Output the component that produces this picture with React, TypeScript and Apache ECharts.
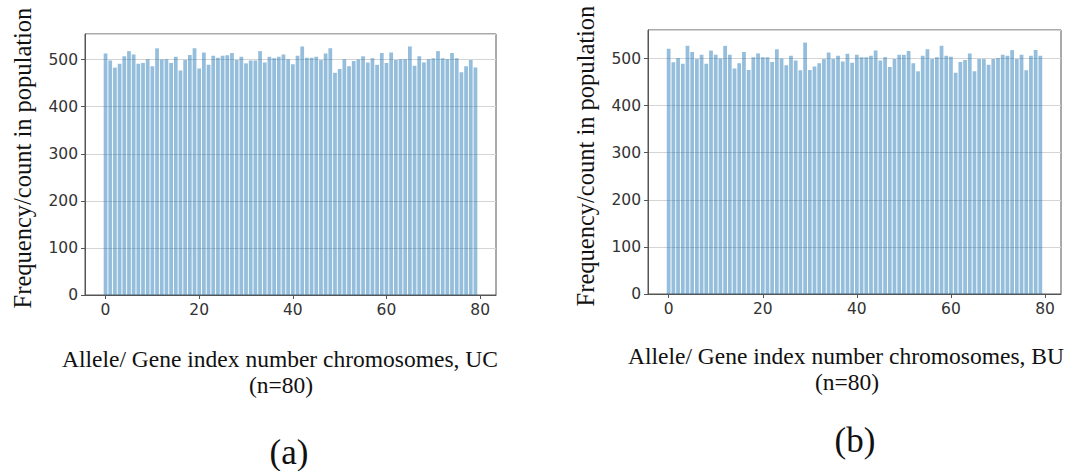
import React, { useEffect, useRef } from "react";
import * as echarts from "echarts";

const geneIndex: number[] = Array.from({ length: 80 }, (_, i) => i);

const ucCounts: number[] = [
  513, 498, 483, 491, 507, 518, 511, 491, 493, 501,
  486, 524, 500, 501, 493, 506, 477, 499, 510, 524,
  481, 515, 489, 508, 504, 508, 509, 514, 499, 506,
  492, 498, 498, 518, 494, 506, 503, 506, 511, 501,
  490, 508, 528, 504, 504, 506, 499, 513, 524, 472,
  480, 501, 486, 497, 500, 507, 494, 503, 489, 514,
  493, 515, 499, 501, 501, 528, 487, 507, 494, 501,
  503, 518, 503, 501, 514, 503, 473, 486, 499, 483,
];

const buCounts: number[] = [
  521, 492, 501, 489, 527, 514, 499, 508, 489, 517,
  508, 500, 527, 508, 479, 490, 514, 476, 503, 511,
  503, 503, 493, 520, 500, 486, 506, 496, 475, 534,
  476, 483, 490, 499, 513, 499, 506, 494, 510, 491,
  508, 503, 503, 506, 517, 496, 503, 482, 499, 508,
  508, 516, 490, 473, 506, 520, 499, 503, 527, 506,
  504, 470, 493, 497, 511, 473, 499, 499, 487, 499,
  501, 508, 506, 518, 499, 508, 475, 506, 518, 506,
];

const xTicks: number[] = [0, 20, 40, 60, 80];
const yLabel = "Frequency/count in population";
const xLabelUC = "Allele/ Gene index number chromosomes, UC";
const xLabelBU = "Allele/ Gene index number chromosomes, BU";
const nLabel = "(n=80)";
const panelA = "(a)";
const panelB = "(b)";

const tickFont = { fontFamily: "DejaVu Sans", fontSize: 15.5, color: "#333" };
const serif = "'Liberation Serif', 'Times New Roman', serif";

export default function App() {
  const ref = useRef<HTMLDivElement>(null);
  useEffect(() => {
    if (!ref.current) return;
    const chart = echarts.init(ref.current, null, { renderer: "svg" });
    const mkX = (gi: number) => ({
      type: "value" as const,
      gridIndex: gi,
      min: -4.39,
      max: 83.39,
      axisLine: { show: true, onZero: false, lineStyle: { color: "#555", width: 1 } },
      axisTick: { show: true, customValues: xTicks, length: 4, lineStyle: { color: "#555" } },
      axisLabel: { show: true, customValues: xTicks, margin: 7, ...tickFont },
      splitLine: { show: false },
    });
    const mkY = (gi: number, max: number) => ({
      type: "value" as const,
      gridIndex: gi,
      min: 0,
      max,
      interval: 100,
      axisLine: { show: true, onZero: false, lineStyle: { color: "#555", width: 1 } },
      axisTick: { show: true, length: 4, lineStyle: { color: "#555" } },
      axisLabel: { show: true, showMaxLabel: false, margin: 7, ...tickFont },
      splitLine: { show: true, lineStyle: { color: "#d4d4d4", width: 1 } },
    });
    const barStyle = {
      color: "rgba(31,119,180,0.48)",
    };
    chart.setOption({
      animation: false,
      grid: [
        { left: 85, top: 34, width: 411, height: 261, show: true, borderColor: "#555", borderWidth: 1, backgroundColor: "transparent" },
        { left: 648, top: 30, width: 413, height: 264, show: true, borderColor: "#555", borderWidth: 1, backgroundColor: "transparent" },
      ],
      xAxis: [mkX(0), mkX(1)],
      yAxis: [mkY(0, 554.4), mkY(1, 560.7)],
      series: [
        {
          type: "bar",
          xAxisIndex: 0,
          yAxisIndex: 0,
          data: geneIndex.map((g, i) => [g, ucCounts[i]]),
          barWidth: 3.75,
          itemStyle: barStyle,
        },
        {
          type: "bar",
          xAxisIndex: 1,
          yAxisIndex: 1,
          data: geneIndex.map((g, i) => [g, buCounts[i]]),
          barWidth: 3.75,
          itemStyle: barStyle,
        },
      ],
      graphic: [
        { type: "text", x: 22, y: 158, rotation: Math.PI / 2, style: { text: yLabel, font: `24.5px ${serif}`, fill: "#111", align: "center", verticalAlign: "middle" } },
        { type: "text", x: 585, y: 156, rotation: Math.PI / 2, style: { text: yLabel, font: `24.5px ${serif}`, fill: "#111", align: "center", verticalAlign: "middle" } },
        { type: "text", x: 280, y: 359, style: { text: xLabelUC, font: `23.5px ${serif}`, fill: "#111", align: "center", verticalAlign: "middle" } },
        { type: "text", x: 281, y: 385, style: { text: nLabel, font: `23.5px ${serif}`, fill: "#111", align: "center", verticalAlign: "middle" } },
        { type: "text", x: 846, y: 356, style: { text: xLabelBU, font: `23.5px ${serif}`, fill: "#111", align: "center", verticalAlign: "middle" } },
        { type: "text", x: 847, y: 382, style: { text: nLabel, font: `23.5px ${serif}`, fill: "#111", align: "center", verticalAlign: "middle" } },
        { type: "text", x: 289, y: 452, style: { text: panelA, font: `35px ${serif}`, fill: "#111", align: "center", verticalAlign: "middle" } },
        { type: "text", x: 855, y: 440, style: { text: panelB, font: `35px ${serif}`, fill: "#111", align: "center", verticalAlign: "middle" } },
      ],
    });
    return () => chart.dispose();
  }, []);
  return <div ref={ref} style={{ width: 1071, height: 471, position: "absolute", left: 0, top: 0, background: "#fff" }} />;
}
